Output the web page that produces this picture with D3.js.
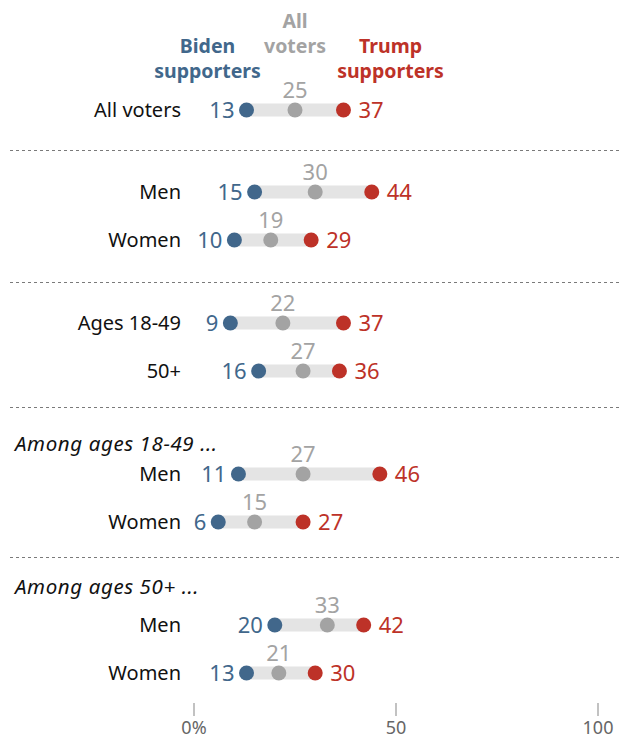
<!DOCTYPE html>
<html>
<head>
<meta charset="utf-8">
<style>
  body { margin: 0; background: #fff; }
  svg text { font-family: "Noto Sans", "Liberation Sans", sans-serif; }
</style>
</head>
<body>
<script src="https://d3js.org/d3.v7.min.js"></script>
<script>
    var width = 626, height = 740;

    // data
    var labels = ["All voters", "Men", "Women", "Ages 18-49", "50+", "Men", "Women", "Men", "Women"];
    var biden = [13, 15, 10, 9, 16, 11, 6, 20, 13];
    var allVoters = [25, 30, 19, 22, 27, 27, 15, 33, 21];
    var trump = [37, 44, 29, 37, 36, 46, 27, 42, 30];
    var subHeads = ["Among ages 18-49 ...", "Among ages 50+ ..."];
    var tickValues = [0, 50, 100];
    var tickLabels = ["0%", "50", "100"];

    // layout: sequence of rows, separators and sub headers with the gap before each
    var layout = [
        { type: "row", i: 0, gap: 110 },
        { type: "sep", gap: 40 },
        { type: "row", i: 1, gap: 42 },
        { type: "row", i: 2, gap: 48 },
        { type: "sep", gap: 42 },
        { type: "row", i: 3, gap: 41 },
        { type: "row", i: 4, gap: 48 },
        { type: "sep", gap: 36 },
        { type: "head", i: 0, gap: 37 },
        { type: "row", i: 5, gap: 30 },
        { type: "row", i: 6, gap: 48 },
        { type: "sep", gap: 35 },
        { type: "head", i: 1, gap: 30 },
        { type: "row", i: 7, gap: 38 },
        { type: "row", i: 8, gap: 48 }
    ];
    var yy = 0;
    layout.forEach(function (d) { yy += d.gap; d.y = yy; });

    var blue = "#41678b", gray = "#a3a3a3", red = "#bd3228";

    var svg = d3.select('body').append('svg').attr('width', width).attr('height', height);

    var x = d3.scaleLinear().domain([0, 100]).range([194, 598]);

    // separators
    svg.selectAll('line.sep')
        .data(layout.filter(function (d) { return d.type == "sep"; }))
        .join('line')
        .attr('class', 'sep')
        .attr('x1', 10).attr('x2', 622)
        .attr('y1', function (d) { return d.y + 0.5; })
        .attr('y2', function (d) { return d.y + 0.5; })
        .attr('stroke', '#7a7a7a')
        .attr('stroke-width', 1.2)
        .attr('stroke-dasharray', '3,3');

    // sub headers
    svg.selectAll('text.head')
        .data(layout.filter(function (d) { return d.type == "head"; }))
        .join('text')
        .attr('class', 'head')
        .attr('x', 15)
        .attr('y', function (d) { return d.y + 7; })
        .attr('font-size', 20.5)
        .attr('letter-spacing', 0.6)
        .attr('font-style', 'italic')
        .attr('fill', '#111')
        .text(function (d) { return subHeads[d.i]; });

    var rows = layout.filter(function (d) { return d.type == "row"; });
    var g = svg.selectAll('g.row')
        .data(rows)
        .join('g')
        .attr('class', 'row')
        .attr('transform', function (d) { return 'translate(0,' + d.y + ')'; });

    g.append('text')
        .attr('x', 181).attr('y', 7)
        .attr('text-anchor', 'end')
        .attr('font-size', 20)
        .attr('fill', '#111')
        .text(function (d) { return labels[d.i]; });

    g.append('rect')
        .attr('x', function (d) { return x(biden[d.i]); })
        .attr('width', function (d) { return x(trump[d.i]) - x(biden[d.i]); })
        .attr('y', -6.5).attr('height', 13)
        .attr('fill', '#e4e4e4');

    g.append('circle')
        .attr('cx', function (d) { return x(biden[d.i]); })
        .attr('r', 7.5).attr('fill', blue);
    g.append('circle')
        .attr('cx', function (d) { return x(allVoters[d.i]); })
        .attr('r', 7.5).attr('fill', gray);
    g.append('circle')
        .attr('cx', function (d) { return x(trump[d.i]); })
        .attr('r', 7.5).attr('fill', red);

    g.append('text')
        .attr('x', function (d) { return x(biden[d.i]) - 12; })
        .attr('y', 8)
        .attr('text-anchor', 'end')
        .attr('font-size', 22)
        .attr('fill', blue)
        .text(function (d) { return biden[d.i]; });
    g.append('text')
        .attr('x', function (d) { return x(allVoters[d.i]); })
        .attr('y', -12)
        .attr('text-anchor', 'middle')
        .attr('font-size', 22)
        .attr('fill', gray)
        .text(function (d) { return allVoters[d.i]; });
    g.append('text')
        .attr('x', function (d) { return x(trump[d.i]) + 15; })
        .attr('y', 8)
        .attr('font-size', 22)
        .attr('fill', red)
        .text(function (d) { return trump[d.i]; });

    // column headers
    var heads = [
        { lines: ["Biden", "supporters"], x: x(biden[0]) - 39, y: 53, c: blue },
        { lines: ["All", "voters"], x: x(allVoters[0]), y: 28, c: gray },
        { lines: ["Trump", "supporters"], x: x(trump[0]) + 47, y: 53, c: red }
    ];
    heads.forEach(function (h) {
        var t = svg.append('text')
            .attr('text-anchor', 'middle')
            .attr('font-size', 19.5)
            .attr('font-weight', 'bold')
            .attr('fill', h.c);
        h.lines.forEach(function (l, k) {
            t.append('tspan').attr('x', h.x).attr('y', h.y + k * 25).text(l);
        });
    });

    // axis
    var axisY = layout[layout.length - 1].y + 30;
    var ax = svg.append('g');
    ax.selectAll('line')
        .data(tickValues)
        .join('line')
        .attr('x1', function (d) { return x(d); })
        .attr('x2', function (d) { return x(d); })
        .attr('y1', axisY).attr('y2', axisY + 13)
        .attr('stroke', '#999').attr('stroke-width', 1.2);
    ax.selectAll('text')
        .data(tickValues)
        .join('text')
        .attr('x', function (d) { return x(d); })
        .attr('y', axisY + 31)
        .attr('text-anchor', 'middle')
        .attr('font-size', 18)
        .attr('fill', '#666')
        .text(function (d, i) { return tickLabels[i]; });
</script>
</body>
</html>
